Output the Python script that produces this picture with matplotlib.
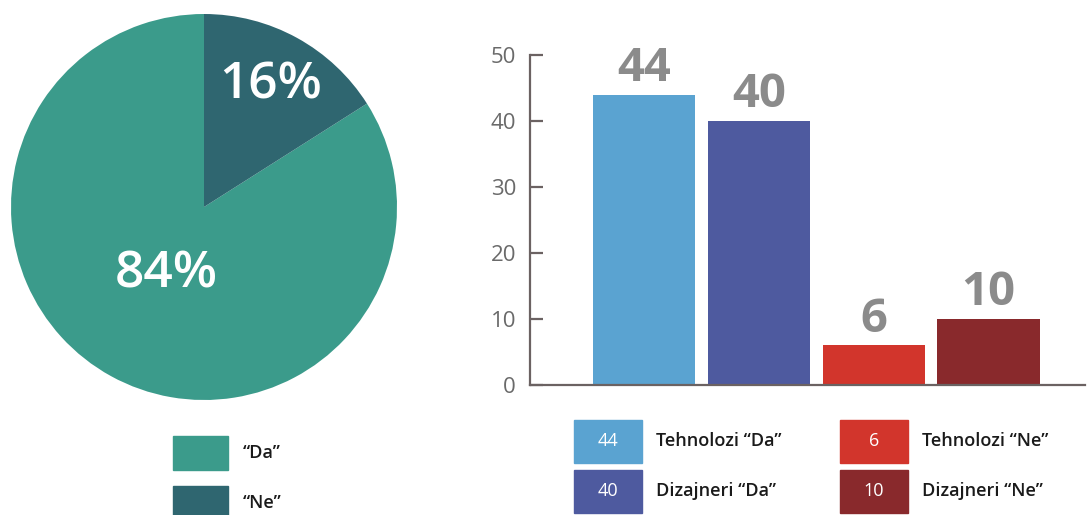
import math

import matplotlib.pyplot as plt
from matplotlib.patches import Rectangle

plt.rcParams["font.family"] = ["Open Sans", "DejaVu Sans"]

# pie data
pie_labels = ["\u201cDa\u201d", "\u201cNe\u201d"]
pie_values = [84, 16]
pie_colors = ["#3b9b8b", "#2f6670"]

# bar data
bar_labels = ["Tehnolozi \u201cDa\u201d", "Dizajneri \u201cDa\u201d", "Tehnolozi \u201cNe\u201d", "Dizajneri \u201cNe\u201d"]
bar_values = [44, 40, 6, 10]
bar_colors = ["#5aa3d1", "#4e5a9f", "#d2352c", "#89292c"]
y_ticks = [0, 10, 20, 30, 40, 50]

W, H = 1089, 515
fig = plt.figure(figsize=(W / 100, H / 100), dpi=100)


def px(x0, y0, x1, y1):
    # pixel box (top-left origin) -> figure fraction rect
    return [x0 / W, 1 - y1 / H, (x1 - x0) / W, (y1 - y0) / H]


# --- pie ---
ax_pie = fig.add_axes(px(11, 14, 397, 400))
wedges, _ = ax_pie.pie(pie_values, colors=pie_colors, startangle=90,
                       wedgeprops={"linewidth": 0})
ax_pie.set_xlim(-1, 1)
ax_pie.set_ylim(-1, 1)
ax_pie.set_aspect("equal")
label_r = [0.40, 0.72]
for w, v, r in zip(wedges, pie_values, label_r):
    mid = math.radians((w.theta1 + w.theta2) / 2)
    ax_pie.text(r * math.cos(mid), r * math.sin(mid), f"{v}%", color="white",
                fontsize=37, fontweight="semibold", ha="center", va="center")

# --- bars ---
ax = fig.add_axes(px(530, 55, 1085, 385))
xs = list(range(len(bar_values)))
ax.bar(xs, bar_values, width=0.89, color=bar_colors)
ax.set_xlim(-0.993, 3.84)
ax.set_ylim(0, 50)
ax.set_yticks(y_ticks)
ax.set_xticks([])
for s in ["top", "right"]:
    ax.spines[s].set_visible(False)
for s in ["left", "bottom"]:
    ax.spines[s].set_color("#6b6262")
    ax.spines[s].set_linewidth(1.6)
ax.tick_params(axis="y", direction="in", length=9, width=1.6, color="#6b6262",
               labelsize=16, labelcolor="#6a6a6a", pad=10)
for x, v in zip(xs, bar_values):
    ax.text(x, v + 0.4, str(v), ha="center", va="bottom", fontsize=34,
            fontweight="bold", color="#8b8b8b")

# --- legends (overlay in pixel coords) ---
leg = fig.add_axes([0, 0, 1, 1])
leg.set_xlim(0, W)
leg.set_ylim(H, 0)
leg.axis("off")

pie_rows = [436, 486]
for lab, col, y in zip(pie_labels, pie_colors, pie_rows):
    leg.add_patch(Rectangle((173, y), 55, 34, color=col, clip_on=False))
    leg.text(243, y + 17, lab, ha="left", va="center", fontsize=13,
             fontweight="semibold", color="#1a1a1a")

bar_pos = [(574, 420), (574, 470), (840, 420), (840, 470)]
for lab, col, v, (x, y) in zip(bar_labels, bar_colors, bar_values, bar_pos):
    leg.add_patch(Rectangle((x, y), 68, 43, color=col, clip_on=False))
    leg.text(x + 34, y + 21.5, str(v), ha="center", va="center", fontsize=13,
             color="white")
    leg.text(x + 82, y + 21.5, lab, ha="left", va="center", fontsize=13,
             fontweight="semibold", color="#1a1a1a")

fig.savefig("out.png", dpi=100)
